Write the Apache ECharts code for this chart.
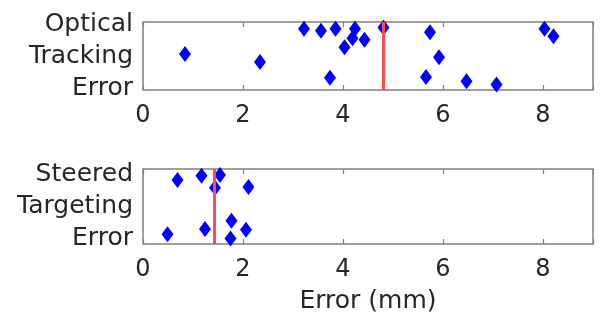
<!DOCTYPE html>
<html>
<head>
<meta charset="utf-8">
<script src="https://cdn.jsdelivr.net/npm/echarts@6/dist/echarts.min.js"></script>
<style>html,body{margin:0;padding:0;background:#fff}#c{width:600px;height:315px}</style>
</head>
<body>
<div id="c"></div>
<script>
// Optical tracking error (mm) and vertical jitter position (0..1)
const opticalX = [0.84, 2.34, 3.22, 3.56, 3.85, 3.74, 4.03, 4.19, 4.24, 4.43, 4.81, 5.74, 5.66, 5.92, 6.47, 7.07, 8.03, 8.21];
const opticalY = [0.53, 0.41, 0.90, 0.87, 0.90, 0.18, 0.63, 0.76, 0.90, 0.74, 0.92, 0.85, 0.19, 0.48, 0.13, 0.08, 0.90, 0.79];
const opticalMean = 4.81;
// Steered targeting error (mm) and jitter
const steeredX = [0.69, 1.17, 1.54, 1.44, 2.11, 0.49, 1.24, 1.77, 2.06, 1.75];
const steeredY = [0.855, 0.91, 0.92, 0.75, 0.76, 0.13, 0.20, 0.31, 0.19, 0.075];
const steeredMean = 1.42;
const xTicks = [0, 2, 4, 6, 8];
const groupLabels = ['Optical\nTracking\nError', 'Steered\nTargeting\nError'];
const xTitle = 'Error (mm)';

const font = 'DejaVu Sans';
const txt = '#262626';
const boxColor = '#808080';

function pairs(xs, ys) { return xs.map((x, i) => [x, ys[i]]); }

function xBottom(gi, withName) {
  return {
    gridIndex: gi, type: 'value', min: 0, max: 9, interval: 2, position: 'bottom',
    axisLine: { show: false },
    axisTick: { show: true, inside: true, length: 5, lineStyle: { color: boxColor, width: 1.2 } },
    splitLine: { show: false },
    axisLabel: { color: txt, fontFamily: font, fontSize: 24, margin: 14,
      formatter: v => xTicks.includes(v) ? String(v) : '' },
    name: withName ? xTitle : '', nameLocation: 'middle', nameGap: 45,
    nameTextStyle: { color: txt, fontFamily: font, fontSize: 25 }
  };
}
function xTop(gi) {
  return {
    gridIndex: gi, type: 'value', min: 0, max: 9, interval: 2, position: 'top',
    axisLine: { show: false },
    axisTick: { show: true, inside: true, length: 5, lineStyle: { color: boxColor, width: 1.2 } },
    axisLabel: { show: false }, splitLine: { show: false }
  };
}
function yAx(gi) {
  return {
    gridIndex: gi, type: 'value', min: 0, max: 1,
    axisLine: { show: false }, axisTick: { show: false }, axisLabel: { show: false }, splitLine: { show: false },
    name: groupLabels[gi], nameLocation: 'middle', nameRotate: 0, nameGap: 10,
    nameTextStyle: { color: txt, fontFamily: font, fontSize: 25, lineHeight: 32, align: 'right' }
  };
}
function sc(gi, xs, ys, mean) {
  return {
    type: 'scatter', xAxisIndex: gi * 2, yAxisIndex: gi,
    data: pairs(xs, ys), symbol: 'diamond', symbolSize: [12, 16],
    itemStyle: { color: '#0000ff', opacity: 1 },
    markLine: { silent: true, symbol: 'none', label: { show: false },
      lineStyle: { color: '#ff4d4d', width: 3, type: 'solid' },
      data: [{ xAxis: mean }] }
  };
}

const chart = echarts.init(document.getElementById('c'));
chart.setOption({
  animation: false,
  backgroundColor: '#fff',
  grid: [
    { left: 143, top: 15, width: 450, height: 75, show: true, borderColor: boxColor, borderWidth: 1.5, backgroundColor: 'transparent' },
    { left: 143, top: 169, width: 450, height: 76, show: true, borderColor: boxColor, borderWidth: 1.5, backgroundColor: 'transparent' }
  ],
  xAxis: [xBottom(0, false), xTop(0), xBottom(1, true), xTop(1)],
  yAxis: [yAx(0), yAx(1)],
  series: [sc(0, opticalX, opticalY, opticalMean), sc(1, steeredX, steeredY, steeredMean)]
});
</script>
</body>
</html>
